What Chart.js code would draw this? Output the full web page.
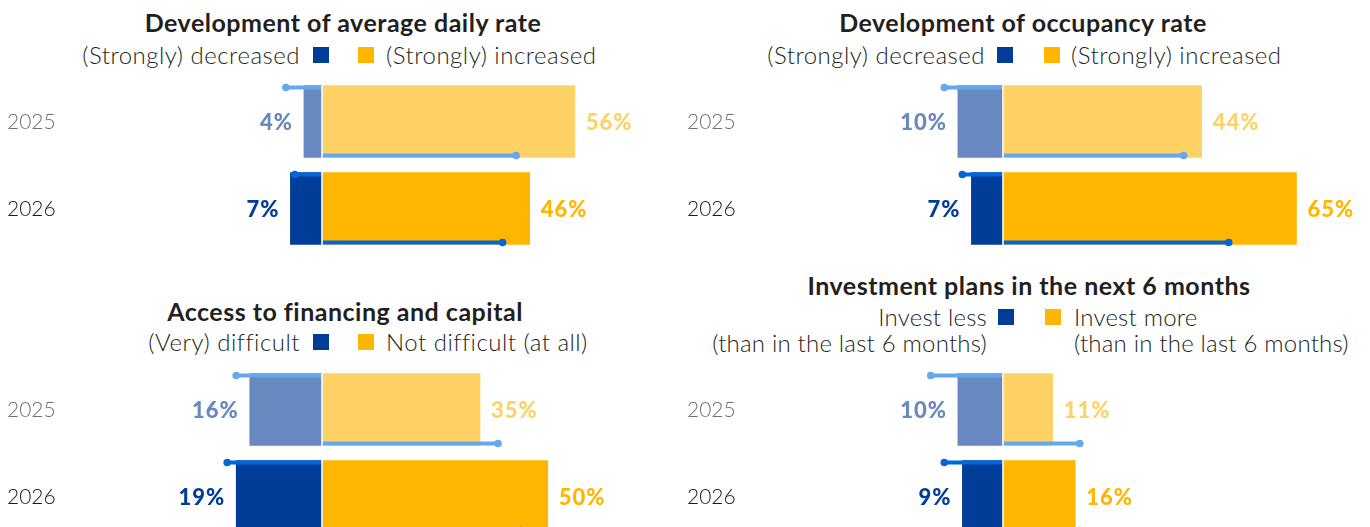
<!DOCTYPE html>
<html>
<head>
<meta charset="utf-8">
<script src="https://cdn.jsdelivr.net/npm/chart.js@4/dist/chart.umd.min.js"></script>
<style>
  html, body { margin:0; padding:0; background:#fff; }
  body { width:1370px; height:527px; overflow:hidden; position:relative; font-family: Lato, "Noto Sans", sans-serif; }
  .title { position:absolute; font-weight:700; font-size:25px; letter-spacing:0.5px; line-height:28px; color:#231f20; white-space:nowrap; transform:translateX(-50%); }
  .ltxt { position:absolute; font-weight:300; font-size:24px; letter-spacing:0.5px; line-height:26px; color:#231f20; white-space:nowrap; }
  .ltxt.r { text-align:right; transform:translateX(-100%); }
  .ltxt.n { letter-spacing:0.2px; }
  .sq { position:absolute; width:16px; height:16px; }
  canvas { position:absolute; }
</style>
</head>
<body>

<!-- Panel 1 -->
<div class="title" style="left:343px; top:8px;">Development of average daily rate</div>
<div class="ltxt r" style="left:300px; top:42px;">(Strongly) decreased</div>
<div class="sq" style="left:313px; top:47px; background:#003D99;"></div>
<div class="sq" style="left:358px; top:47px; background:#FFB600;"></div>
<div class="ltxt" style="left:386px; top:42px;">(Strongly) increased</div>
<canvas id="c1" width="685" height="174" style="left:0; top:78px;"></canvas>

<!-- Panel 2 -->
<div class="title" style="left:1023px; top:8px;">Development of occupancy rate</div>
<div class="ltxt r" style="left:985px; top:42px;">(Strongly) decreased</div>
<div class="sq" style="left:997px; top:47px; background:#003D99;"></div>
<div class="sq" style="left:1044px; top:47px; background:#FFB600;"></div>
<div class="ltxt" style="left:1071px; top:42px;">(Strongly) increased</div>
<canvas id="c2" width="685" height="174" style="left:685px; top:78px;"></canvas>

<!-- Panel 3 -->
<div class="title" style="left:345px; top:297px;">Access to financing and capital</div>
<div class="ltxt r" style="left:300px; top:329px;">(Very) difficult</div>
<div class="sq" style="left:313px; top:334px; background:#003D99;"></div>
<div class="sq" style="left:358px; top:334px; background:#FFB600;"></div>
<div class="ltxt" style="left:386px; top:329px;">Not difficult (at all)</div>
<canvas id="c3" width="685" height="174" style="left:0; top:366px;"></canvas>

<!-- Panel 4 -->
<div class="title" style="left:1029px; top:271px;">Investment plans in the next 6 months</div>
<div class="ltxt r n" style="left:987px; top:304px;">Invest less<br>(than in the last 6 months)</div>
<div class="sq" style="left:998px; top:309px; background:#003D99;"></div>
<div class="sq" style="left:1045px; top:309px; background:#FFB600;"></div>
<div class="ltxt n" style="left:1074px; top:304px;">Invest more<br>(than in the last 6 months)</div>
<canvas id="c4" width="685" height="174" style="left:685px; top:366px;"></canvas>

<script>
// ---- Data ----
const years = ['2025', '2026'];

const adrDecreased = [4, 7];
const adrIncreased = [56, 46];
const adrDecreasedMarker = [8, 6];
const adrIncreasedMarker = [43, 40];

const occDecreased = [10, 7];
const occIncreased = [44, 65];
const occDecreasedMarker = [13, 9];
const occIncreasedMarker = [40, 50];

const finDifficult = [16, 19];
const finNotDifficult = [35, 50];
const finDifficultMarker = [19, 21];
const finNotDifficultMarker = [39, 44];

const invLess = [10, 9];
const invMore = [11, 16];
const invLessMarker = [16, 13];
const invMoreMarker = [17, 17];

// ---- Styles ----
const negColors = ['#6789BF', '#003D99'];
const posColors = ['#FFD266', '#FFB600'];
const markerColors = ['#66A8EE', '#0066DD'];
const yearColors = ['#707070', '#1a1a1a'];
const xMin = -50, xMax = 75;

const markersPlugin = {
  id: 'markers',
  afterDatasetsDraw(chart) {
    const ctx = chart.ctx;
    const xs = chart.scales.x;
    const ys = chart.scales.y;
    const m = chart.options.plugins.markers;
    const x0 = xs.getPixelForValue(0);
    const metaNeg = chart.getDatasetMeta(0);
    const metaPos = chart.getDatasetMeta(1);
    ctx.save();
    metaNeg.data.forEach((el, i) => {
      const c = markerColors[i];
      const yT = el.y - el.height / 2 + 2;
      const xN = xs.getPixelForValue(-m.neg[i]);
      ctx.strokeStyle = c; ctx.fillStyle = c; ctx.lineWidth = 4;
      ctx.beginPath(); ctx.moveTo(x0, yT); ctx.lineTo(xN, yT); ctx.stroke();
      ctx.beginPath(); ctx.arc(xN, yT, 3.8, 0, Math.PI * 2); ctx.fill();
      const elP = metaPos.data[i];
      const yB = elP.y + elP.height / 2 - 2;
      const xP = xs.getPixelForValue(m.pos[i]);
      ctx.beginPath(); ctx.moveTo(x0, yB); ctx.lineTo(xP, yB); ctx.stroke();
      ctx.beginPath(); ctx.arc(xP, yB, 3.8, 0, Math.PI * 2); ctx.fill();
    });
    // white divider at zero
    ctx.strokeStyle = '#ffffff'; ctx.lineWidth = 1.6;
    ctx.beginPath(); ctx.moveTo(x0, chart.chartArea.top); ctx.lineTo(x0, chart.chartArea.bottom); ctx.stroke();
    // value labels
    ctx.font = '900 22px Lato, "Noto Sans", sans-serif';
    if ('letterSpacing' in ctx) ctx.letterSpacing = '1px';
    ctx.textBaseline = 'middle';
    metaNeg.data.forEach((el, i) => {
      const v = -chart.data.datasets[0].data[i];
      ctx.fillStyle = negColors[i];
      ctx.textAlign = 'right';
      ctx.fillText(v + '%', xs.getPixelForValue(-v) - 11, el.y + 1);
      const elP = metaPos.data[i];
      const p = chart.data.datasets[1].data[i];
      ctx.fillStyle = posColors[i];
      ctx.textAlign = 'left';
      ctx.fillText(p + '%', xs.getPixelForValue(p) + 11, elP.y + 1);
    });
    // year (category) labels from the y scale
    if ('letterSpacing' in ctx) ctx.letterSpacing = '0px';
    ctx.font = '300 21px Lato, "Noto Sans", sans-serif';
    ctx.textAlign = 'left';
    chart.data.labels.forEach((lab, i) => {
      ctx.fillStyle = yearColors[i];
      ctx.fillText(lab, m.labelX, ys.getPixelForValue(i) + 1);
    });
    ctx.restore();
  }
};

function makePanel(id, neg, pos, negMarker, posMarker, labelX, centerX) {
  const pxPerUnit = 4.515;
  const areaLeft = centerX - (0 - xMin) * pxPerUnit;
  const areaRight = areaLeft + (xMax - xMin) * pxPerUnit;
  new Chart(document.getElementById(id), {
    type: 'bar',
    data: {
      labels: years,
      datasets: [
        { data: neg.map(v => -v), backgroundColor: negColors, borderWidth: 0, barThickness: 72 },
        { data: pos, backgroundColor: posColors, borderWidth: 0, barThickness: 72 }
      ]
    },
    options: {
      indexAxis: 'y',
      responsive: false,
      animation: false,
      events: [],
      layout: { padding: { left: areaLeft, right: 685 - areaRight, top: 0, bottom: 0 } },
      scales: {
        x: { stacked: true, min: xMin, max: xMax, display: false },
        y: { stacked: true, display: false }
      },
      plugins: {
        legend: { display: false },
        tooltip: { enabled: false },
        markers: { neg: negMarker, pos: posMarker, labelX: labelX }
      }
    },
    plugins: [markersPlugin]
  });
}

makePanel('c1', adrDecreased, adrIncreased, adrDecreasedMarker, adrIncreasedMarker, 7, 322);
makePanel('c2', occDecreased, occIncreased, occDecreasedMarker, occIncreasedMarker, 2, 318);
makePanel('c3', finDifficult, finNotDifficult, finDifficultMarker, finNotDifficultMarker, 7, 322);
makePanel('c4', invLess, invMore, invLessMarker, invMoreMarker, 2, 318);
</script>
</body>
</html>
